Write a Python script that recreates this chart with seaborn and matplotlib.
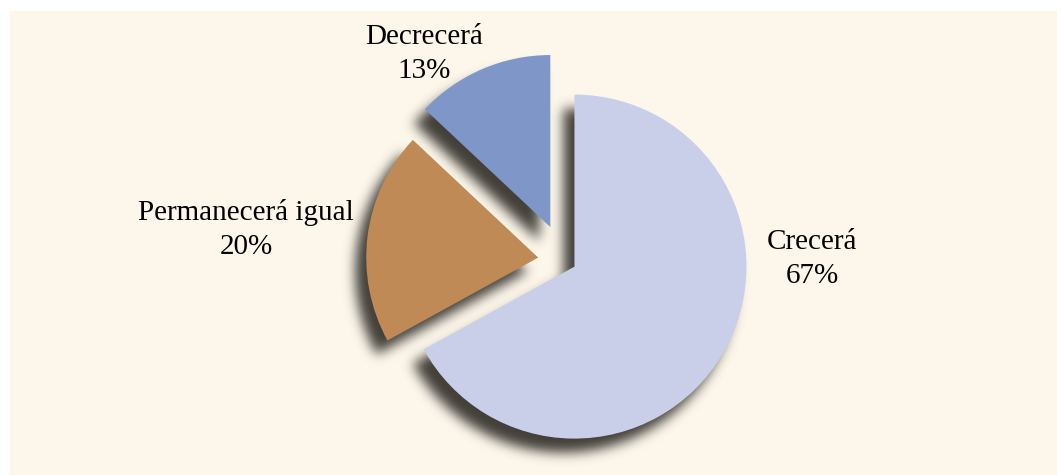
import numpy as np
import seaborn as sns
import matplotlib
matplotlib.use("Agg")
import matplotlib.pyplot as plt
import matplotlib.patches as mpatches

# data
categories = ["Crecerá", "Permanecerá igual", "Decrecerá"]
shares = [67, 20, 13]
slice_colors = ["#c9cfe8", "#c08a56", "#7f96c8"]

# layout (pixels, figure is 1057x475 at dpi 100)
explode_px = [11, 27, 37]
pie_center = (565, 214)
pie_radius = 172
label_pos = [(812, 216), (246, 246), (424, 421)]
cream = "#fdf7eb"


def gauss_blur(a, sigma):
    """Separable gaussian blur on a 2d array, numpy only."""
    r = int(3 * sigma)
    k = np.exp(-0.5 * (np.arange(-r, r + 1) / sigma) ** 2)
    k /= k.sum()
    a = np.apply_along_axis(lambda m: np.convolve(m, k, mode="same"), 0, a)
    a = np.apply_along_axis(lambda m: np.convolve(m, k, mode="same"), 1, a)
    return a


class SoftShadow:
    """agg_filter: blurred, shifted dark copy of the artist."""

    def __init__(self, dx, dy, sigma, alpha, color):
        self.dx, self.dy = dx, dy
        self.sigma, self.alpha = sigma, alpha
        self.rgb = np.array(matplotlib.colors.to_rgb(color))

    def __call__(self, im, dpi):
        pad = int(3 * self.sigma) + 2
        src = np.pad(im, [(pad, pad), (pad, pad), (0, 0)], "constant")
        out = np.zeros_like(src)
        out[..., :3] = self.rgb
        out[..., 3] = np.clip(gauss_blur(src[..., 3], self.sigma) * self.alpha, 0, 1)
        return out, -pad + self.dx, -pad + self.dy


sns.set_theme(style="white")
plt.rcParams["font.family"] = ["Liberation Serif", "DejaVu Serif"]

fig = plt.figure(figsize=(10.57, 4.75), dpi=100, facecolor="white")
ax = fig.add_axes([10 / 1057, 0, 1047 / 1057, 464 / 475])

wedges, _ = ax.pie(
    shares,
    colors=slice_colors,
    explode=explode_px,
    startangle=90,
    counterclock=False,
    radius=pie_radius,
    center=pie_center,
    wedgeprops=dict(linewidth=0, zorder=2),
)

# blurred drop shadows under every slice
for w in wedges:
    sh = mpatches.Wedge(w.center, w.r, w.theta1, w.theta2,
                        facecolor="#37352f", edgecolor="none", zorder=1)
    sh.set_agg_filter(SoftShadow(-11, -14, 6, 0.95, "#37352f"))
    ax.add_patch(sh)

for name, val, (tx, ty) in zip(categories, shares, label_pos):
    ax.text(tx, ty, f"{name}\n{val}%", ha="center", va="center",
            multialignment="center", fontsize=21, color="black",
            linespacing=1.4, zorder=3)

ax.set_xlim(10, 1057)
ax.set_ylim(0, 464)
ax.set_aspect("equal")
ax.set_frame_on(True)
ax.set_facecolor(cream)
for s in ax.spines.values():
    s.set_visible(False)
ax.set_xticks([])
ax.set_yticks([])

fig.savefig("out.png", dpi=100, facecolor="white")
